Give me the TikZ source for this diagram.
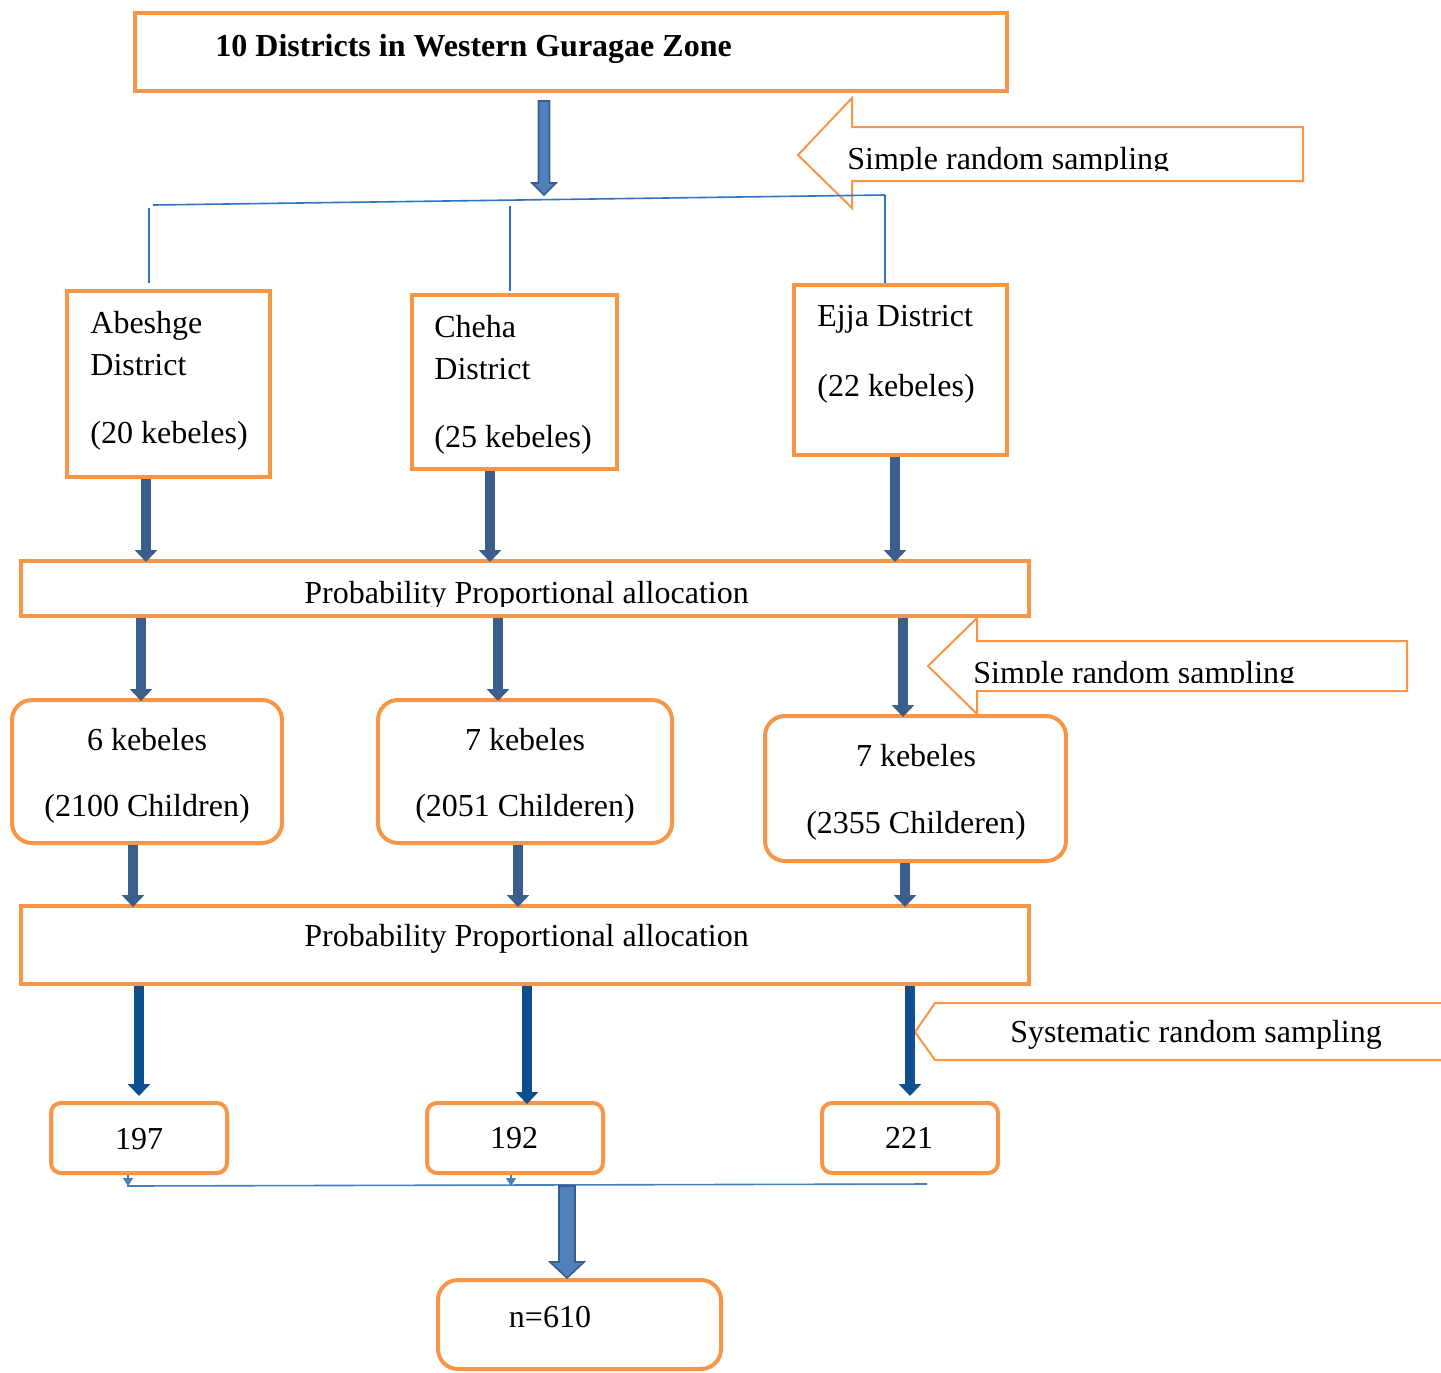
\documentclass[tikz,border=0pt]{standalone}
\usepackage{fontspec}
\setmainfont{Liberation Serif}
\usetikzlibrary{arrows.meta,calc,fit}

\definecolor{boxorange}{HTML}{F79646}
\definecolor{arrowdark}{HTML}{3B5E8C}
\definecolor{arrownavy}{HTML}{0E4F91}
\definecolor{linkblue}{HTML}{2E75C6}
\definecolor{linkgrey}{HTML}{4A7EBB}
\definecolor{blockfill}{HTML}{4F81BD}
\definecolor{blockedge}{HTML}{385D8A}

\tikzset{
  box/.style={draw=boxorange, line width=2pt, inner sep=0pt},
  roundbox/.style={box, rounded corners=10pt},
  smallbox/.style={box, rounded corners=5pt},
  callout/.style={draw=boxorange, line width=1pt},
  txt/.style={font=\fontsize{16}{19}\selectfont, inner sep=0pt},
  feed/.style={draw=arrowdark, line width=5pt, -{Triangle[length=6pt,width=11pt]}, shorten >=-1.5pt},
  feednavy/.style={feed, draw=arrownavy},
  branch/.style={draw=linkblue, line width=0.8pt},
  mergeline/.style={draw=linkgrey, line width=0.8pt},
  block/.style={draw=blockedge, fill=blockfill, line width=0.8pt}
}

% block arrow: start, end, half shaft, half head, head length
\newcommand{\blockdown}[5]{%
  \draw[block] let \p1=#1, \p2=#2 in
    (\x1-#3,\y1) -- (\x1-#3,\y2+#5) -- (\x1-#4,\y2+#5) -- (\x1,\y2)
    -- (\x1+#4,\y2+#5) -- (\x1+#3,\y2+#5) -- (\x1+#3,\y1) -- cycle;}

\begin{document}
\begin{tikzpicture}[x=0.5pt, y=-0.5pt]
    \useasboundingbox (0,0) rectangle (1441,1372);

    % Zone box
    \node[box, fit={(135,13) (1007,91)}] (title) {};
    \node[txt, font=\fontsize{16}{19}\selectfont\bfseries, anchor=base west] (titletxt) at (215,56) {10 Districts in Western Guragae Zone};

    % First sampling callout
    \draw[callout] (798,155) -- (852,98) -- (852,127) -- (1303,127) -- (1303,181) -- (852,181) -- (852,208) -- cycle;
    \begin{scope}
        \clip (798,120) rectangle (1303,170);
        \node[txt, anchor=base west] (srsone) at (847,169) {Simple random sampling};
    \end{scope}

    % Split to districts
    \coordinate (splitL) at (153,205);
    \coordinate (splitR) at (885,195);
    \coordinate (splitTip) at (544,195);
    \coordinate (cutA) at (149,208);
    \coordinate (cutB) at (510,206);
    \coordinate (cutC) at (885,195);
    \blockdown{($(title.south -| 544,0)+(0,8)$)}{(splitTip)}{2.75pt}{6pt}{6pt}
    \draw[branch] (splitL) -- (splitR);

    % District boxes
    \node[box, fit={(67,291) (270,477)}] (abeshge) {};
    \node[box, fit={(412,295) (617,469)}] (cheha) {};
    \node[box, fit={(794,285) (1007,455)}] (ejja) {};
    \draw[branch, shorten >=3pt] (cutA) -- (cutA |- abeshge.north);
    \draw[branch, shorten >=1pt] (cutB) -- (cutB |- cheha.north);
    \draw[branch] (cutC) -- (cutC |- ejja.north);

    \node[txt, anchor=base west] (abeshgename) at (90,333) {Abeshge};
    \node[txt, anchor=base west] (abeshgedist) at (90,375) {District};
    \node[txt, anchor=base west] (abeshgekeb) at (90,443) {(20 kebeles)};
    \node[txt, anchor=base west] (chehaname) at (434,337) {Cheha};
    \node[txt, anchor=base west] (chehadist) at (434,379) {District};
    \node[txt, anchor=base west] (chehakeb) at (434,447) {(25 kebeles)};
    \node[txt, anchor=base west] (ejjaname) at (817,326) {Ejja District};
    \node[txt, anchor=base west] (ejjakeb) at (817,396) {(22 kebeles)};

    % First allocation
    \node[box, fit={(21,561) (1029,616)}] (ppaone) {};
    \begin{scope}
        \clip (21,561) rectangle (1029,606);
        \node[txt, anchor=base west] (ppaonetxt) at (304,603) {Probability Proportional allocation};
    \end{scope}
    \draw[feed] (abeshge.south -| 146,0) -- (ppaone.north -| 146,0);
    \draw[feed] (cheha.south -| 490,0) -- (ppaone.north -| 490,0);
    \draw[feed] (ejja.south -| 895,0) -- (ppaone.north -| 895,0);

    % Second sampling callout
    \draw[callout] (928,666) -- (977,618) -- (977,641) -- (1407,641) -- (1407,691) -- (977,691) -- (977,714) -- cycle;
    \begin{scope}
        \clip (928,641) rectangle (1407,682);
        \node[txt, anchor=base west] (srstwo) at (973,683) {Simple random sampling};
    \end{scope}

    % Kebele boxes
    \node[roundbox, fit={(12,700) (282,843)}] (kebA) {};
    \node[roundbox, fit={(378,700) (672,843)}] (kebB) {};
    \node[roundbox, fit={(765,716) (1066,861)}] (kebC) {};
    \draw[feed] (ppaone.south -| 141,0) -- (kebA.north -| 141,0);
    \draw[feed] (ppaone.south -| 498,0) -- (kebB.north -| 498,0);
    \draw[feed] (ppaone.south -| 903,0) -- (kebC.north -| 903,0);

    \node[txt, anchor=base] (kebAnum) at (147,750) {6 kebeles};
    \node[txt, anchor=base] (kebAkids) at (147,816) {(2100 Children)};
    \node[txt, anchor=base] (kebBnum) at (525,750) {7 kebeles};
    \node[txt, anchor=base] (kebBkids) at (525,816) {(2051 Childeren)};
    \node[txt, anchor=base] (kebCnum) at (916,766) {7 kebeles};
    \node[txt, anchor=base] (kebCkids) at (916,833) {(2355 Childeren)};

    % Second allocation
    \node[box, fit={(21,906) (1029,984)}] (ppatwo) {};
    \node[txt, anchor=base west] (ppatwotxt) at (304,946) {Probability Proportional allocation};
    \draw[feed] (kebA.south -| 133,0) -- (ppatwo.north -| 133,0);
    \draw[feed] (kebB.south -| 518,0) -- (ppatwo.north -| 518,0);
    \draw[feed] (kebC.south -| 905,0) -- (ppatwo.north -| 905,0);

    % Systematic callout
    \draw[callout] (1445,1003) -- (935,1003) -- (915,1032) -- (935,1060) -- (1445,1060);
    \node[txt, anchor=base] (systxt) at (1196,1042) {Systematic random sampling};

    % Sample sizes
    \node[smallbox, fit={(51,1103) (227,1173)}] (numA) {};
    \node[smallbox, fit={(427,1103) (603,1173)}] (numB) {};
    \node[smallbox, fit={(822,1103) (998,1173)}] (numC) {};
    \node[txt, anchor=base] (numAtxt) at (139,1149) {197};
    \node[txt, anchor=base] (numBtxt) at (514,1148) {192};
    \node[txt, anchor=base] (numCtxt) at (909,1148) {221};
    \draw[feednavy] (ppatwo.south -| 139,0) -- ($(numA.north -| 139,0)+(0,-8)$);
    \draw[feednavy] (ppatwo.south -| 527,0) -- (numB.north -| 527,0);
    \draw[feednavy] (ppatwo.south -| 910,0) -- ($(numC.north -| 910,0)+(0,-8)$);

    % Merge to total
    \coordinate (mergeL) at (127,1186);
    \coordinate (mergeR) at (927,1184);
    \draw[mergeline] (mergeL) -- (mergeR);
    \draw[mergeline, -{Triangle[length=4pt,width=5pt]}] (numA.south -| 128,0) -- (mergeL -| 128,0);
    \draw[mergeline, -{Triangle[length=4pt,width=5pt]}] (numB.south -| 511,0) -- (mergeL -| 511,0);

    \node[roundbox, fit={(438,1280) (721,1369)}] (total) {};
    \node[txt, anchor=base] (totaltxt) at (550,1327) {n=610};
    \blockdown{(mergeL -| 567,0)}{(total.north -| 567,0)}{4pt}{8.5pt}{8pt}
\end{tikzpicture}
\end{document}
